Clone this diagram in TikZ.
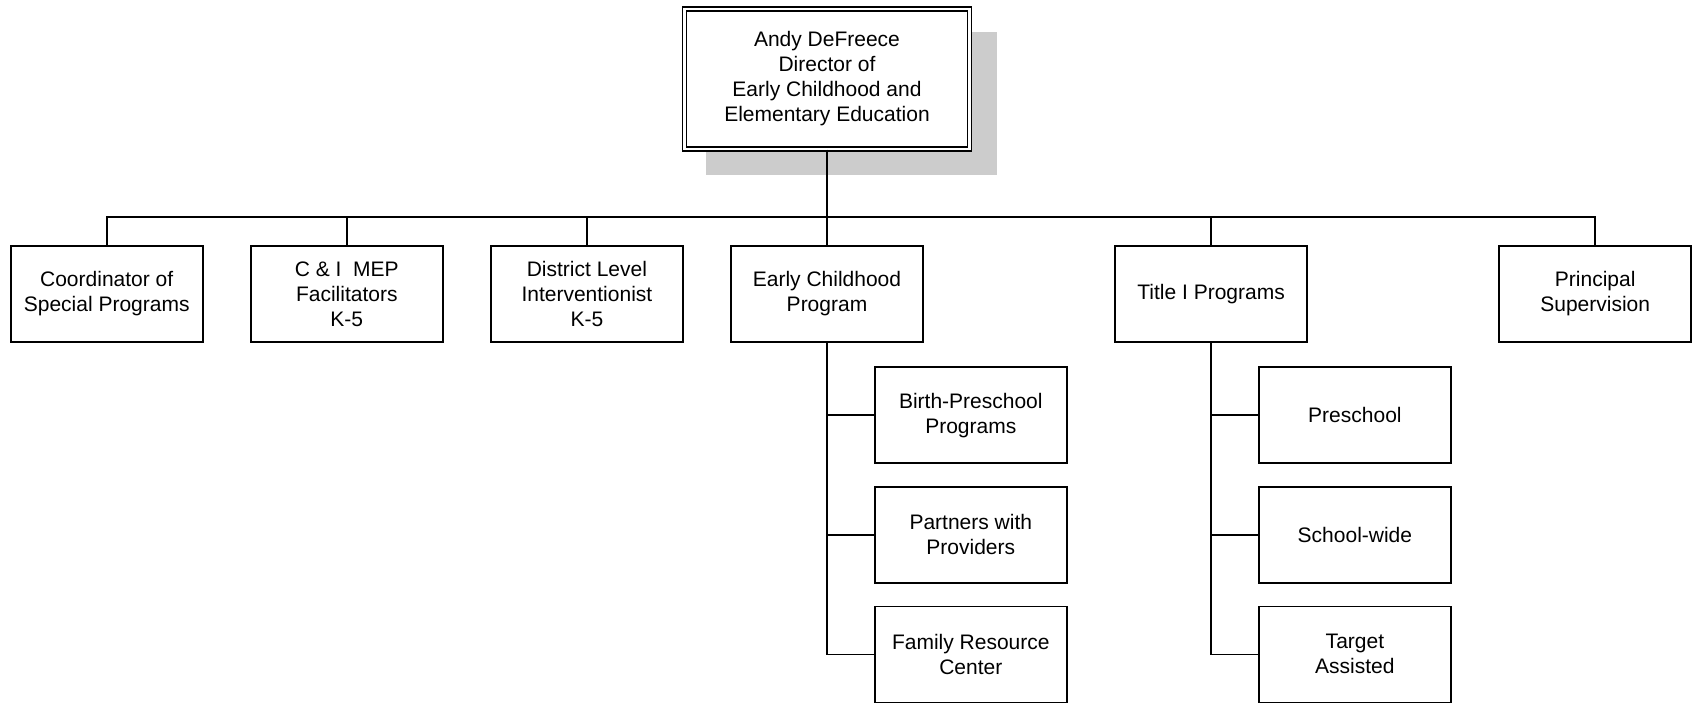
\documentclass[tikz,border=0pt]{standalone}
\usepackage{fontspec}
\setmainfont{Liberation Sans}
\usetikzlibrary{positioning, shadows, backgrounds}
\definecolor{shadowgray}{RGB}{204,204,204}
\tikzset{
  unit/.style={rectangle, draw=black, line width=1.6pt, fill=white, minimum width=192pt, minimum height=96pt, align=center, inner sep=2pt},
  head/.style={rectangle, draw=black, line width=1.3pt, double, double distance=2.6pt, fill=white, minimum width=285pt, minimum height=140pt, align=center,
    drop shadow={shadow xshift=24pt, shadow yshift=-24pt, shadow scale=1.02, fill=shadowgray, opacity=1}},
  link/.style={line width=1.6pt},
}
\begin{document}
\begin{tikzpicture}[font=\fontsize{21pt}{25pt}\selectfont]
\useasboundingbox (0,0) rectangle (1692pt,-703pt);
\node[head] (dir) at (827pt,-79pt) {Andy DeFreece\\Director of\\Early Childhood and\\Elementary Education};
% first row
\node[unit] (ec) at (827pt,-294pt) {Early Childhood\\Program};
\node[unit, left=46.5pt of ec] (dli) {District Level\\Interventionist\\K-5};
\node[unit, left=46.5pt of dli] (mep) {C \& I\ \ MEP\\Facilitators\\K-5};
\node[unit, left=46.5pt of mep] (csp) {Coordinator of\\Special Programs};
\node[unit, right=190.5pt of ec] (title) {Title I Programs};
\node[unit, right=190.5pt of title] (prin) {Principal\\Supervision};
% early childhood branch
\node[unit, below right=23.5pt and 47pt of ec.south] (birth) {Birth-Preschool\\Programs};
\node[unit, below=22pt of birth] (partn) {Partners with\\Providers};
\node[unit, below=22pt of partn] (famr) {Family Resource\\Center};
% title I branch
\node[unit, below right=23.5pt and 47pt of title.south] (presch) {Preschool};
\node[unit, below=22pt of presch] (swide) {School-wide};
\node[unit, below=22pt of swide] (targ) {Target\\Assisted};
% connectors
\coordinate (bus) at (827pt,-217pt);
\draw[link] (dir.south) -- (bus);
\foreach \n in {csp, mep, dli, ec, title, prin}
  \draw[link] (\n.north) |- (bus);
\draw[link] (ec.south) |- (famr.west);
\draw[link] (title.south) |- (targ.west);
\foreach \n in {birth, partn}
  \draw[link] (ec.south |- \n.west) -- (\n.west);
\foreach \n in {presch, swide}
  \draw[link] (title.south |- \n.west) -- (\n.west);
\end{tikzpicture}
\end{document}
